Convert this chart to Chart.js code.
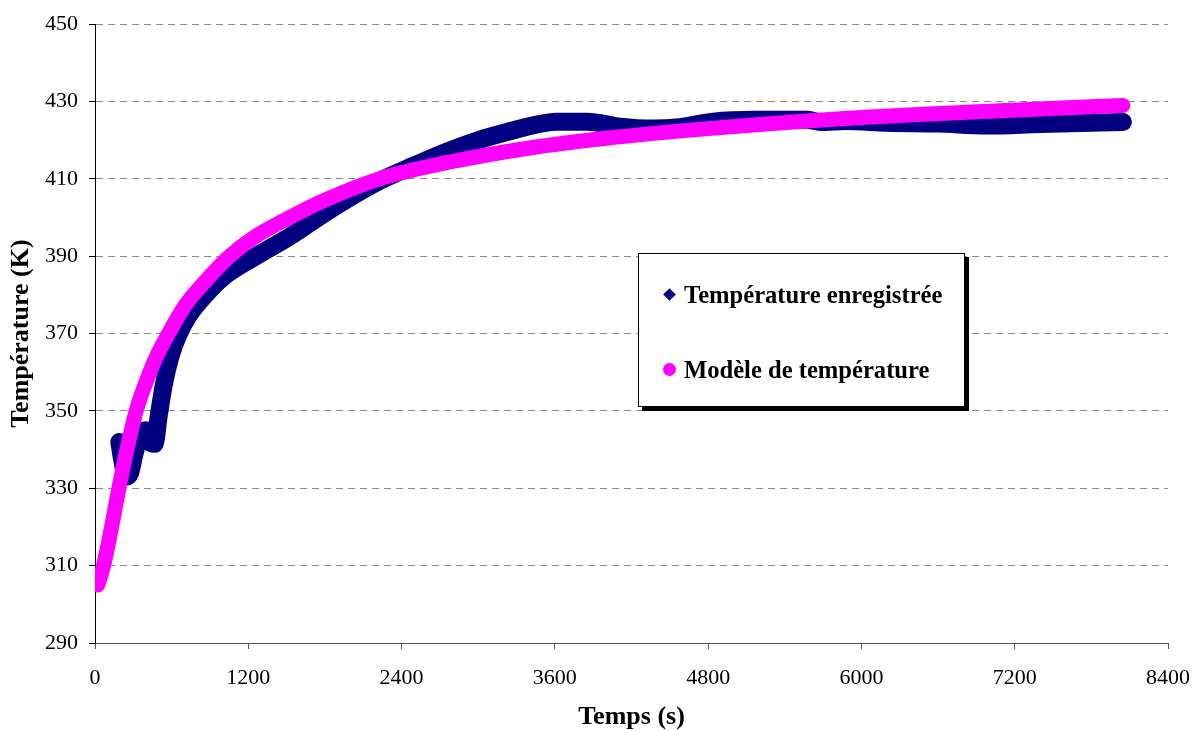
<!DOCTYPE html>
<html lang="fr">
<head>
<meta charset="utf-8">
<title>Température du four</title>
<script src="https://cdn.jsdelivr.net/npm/chart.js@4.4.1/dist/chart.umd.min.js"></script>
<style>
    html, body { margin: 0; padding: 0; background: #fff; }
    #wrap { position: relative; width: 1195px; height: 731px; }
    #legende {
        position: absolute; left: 638px; top: 253px; width: 325px; height: 152px;
        border: 1px solid #000; background: #fff; box-shadow: 4px 4px 0 #000;
        font-family: "Liberation Serif", serif; font-weight: bold; font-size: 24.6px; color: #000;
    }
    .item { position: absolute; left: 45px; line-height: 24px; white-space: nowrap; }
    .losange { position: absolute; left: 26px; width: 9px; height: 9px; background: #000080; transform: rotate(45deg); }
    .rond { position: absolute; left: 24px; width: 13px; height: 13px; border-radius: 50%; background: #ff00ff; }
</style>
</head>
<body>
<div id="wrap">
    <canvas id="chart" width="1195" height="731"></canvas>
    <div id="legende">
        <div class="losange" style="top:36px"></div>
        <div class="item" style="top:29px">Température enregistrée</div>
        <div class="rond" style="top:109px"></div>
        <div class="item" style="top:104px">Modèle de température</div>
    </div>
</div>
<script>
// Valeurs (temps en s, température en K)
const recordedTime = [190, 215, 245, 275, 310, 350, 395, 430, 465, 500, 540, 590, 650, 730, 850,
    1000, 1260, 1520, 1840, 2230, 2500, 2750, 3000, 3270, 3450, 3610, 3850, 4110, 4370, 4580,
    4840, 5150, 5570, 5680, 5880, 6200, 6600, 6980, 7400, 7800, 8047];
const recordedTemp = [342, 337, 333, 334, 339, 343.5, 345, 342, 341.5, 349, 357, 364, 369.5, 374.5, 379.5,
    384.5, 390, 395, 402, 409.5, 413.5, 417, 420, 422.5, 424, 424.8, 424.8, 423.5, 423, 423.4,
    424.8, 425.3, 425.3, 424.7, 425, 424.5, 424.3, 423.8, 424.2, 424.5, 424.7];

const modelTime = [22, 67, 130, 187, 250, 322, 406, 480, 576, 700, 850, 1053, 1250, 1523, 1800,
    2228, 2800, 3403, 4000, 4800, 5900, 7000, 8047];
const modelTemp = [305, 310, 320, 330, 340, 350, 358, 364, 370, 377, 383, 390, 395, 400, 404.5,
    410, 414.5, 418, 420.5, 423, 425.7, 427.5, 429];

const xMin = 0, xMax = 8400, xStep = 1200;
const yMin = 290, yMax = 450, yStep = 20;

const toPoints = (xs, ys) => xs.map((x, i) => ({ x, y: ys[i] }));
const serif = '"Liberation Serif", "Times New Roman", serif';

new Chart(document.getElementById('chart'), {
    type: 'line',
    data: {
        datasets: [
            {
                label: 'Modèle de température',
                data: toPoints(modelTime, modelTemp),
                borderColor: '#ff00ff',
                borderWidth: 15,
                borderCapStyle: 'round',
                borderJoinStyle: 'round',
                cubicInterpolationMode: 'monotone',
                pointRadius: 0
            },
            {
                label: 'Température enregistrée',
                data: toPoints(recordedTime, recordedTemp),
                borderColor: '#000080',
                borderWidth: 18,
                borderCapStyle: 'round',
                borderJoinStyle: 'round',
                cubicInterpolationMode: 'monotone',
                pointRadius: 0
            }
        ]
    },
    options: {
        responsive: false,
        animation: false,
        layout: { padding: { left: 0, top: 23, right: 27, bottom: 0 } },
        plugins: { legend: { display: false }, tooltip: { enabled: false } },
        scales: {
            x: {
                type: 'linear', min: xMin, max: xMax,
                // hauteur fixe et pas de marge auto pour caler la zone de tracé
                afterFit: s => { s.height = 88; s.paddingLeft = 0; s.paddingRight = 0; },
                ticks: {
                    stepSize: xStep, color: '#000', padding: 16,
                    font: { family: serif, size: 22 },
                    callback: v => String(v)
                },
                grid: { drawOnChartArea: false, drawTicks: true, tickLength: 6, tickColor: '#555' },
                border: { color: '#555', width: 1 },
                title: {
                    display: true, text: 'Temps (s)', color: '#000',
                    padding: { top: 0, bottom: 1 },
                    font: { family: serif, size: 26, weight: 'bold', lineHeight: 1 }
                }
            },
            y: {
                min: yMin, max: yMax,
                afterFit: s => { s.width = 95; },
                ticks: {
                    stepSize: yStep, color: '#000', padding: 11,
                    font: { family: serif, size: 22 },
                    callback: v => String(v)
                },
                grid: { color: '#888', drawTicks: true, tickLength: 6, tickColor: '#000', tickBorderDash: [] },
                border: { color: '#000', width: 1, dash: [7, 5] },
                title: {
                    display: true, text: 'Température (K)', color: '#000',
                    padding: { top: 6, bottom: 0 },
                    font: { family: serif, size: 26, weight: 'bold', lineHeight: 1.2 }
                }
            }
        }
    }
});
</script>
</body>
</html>
